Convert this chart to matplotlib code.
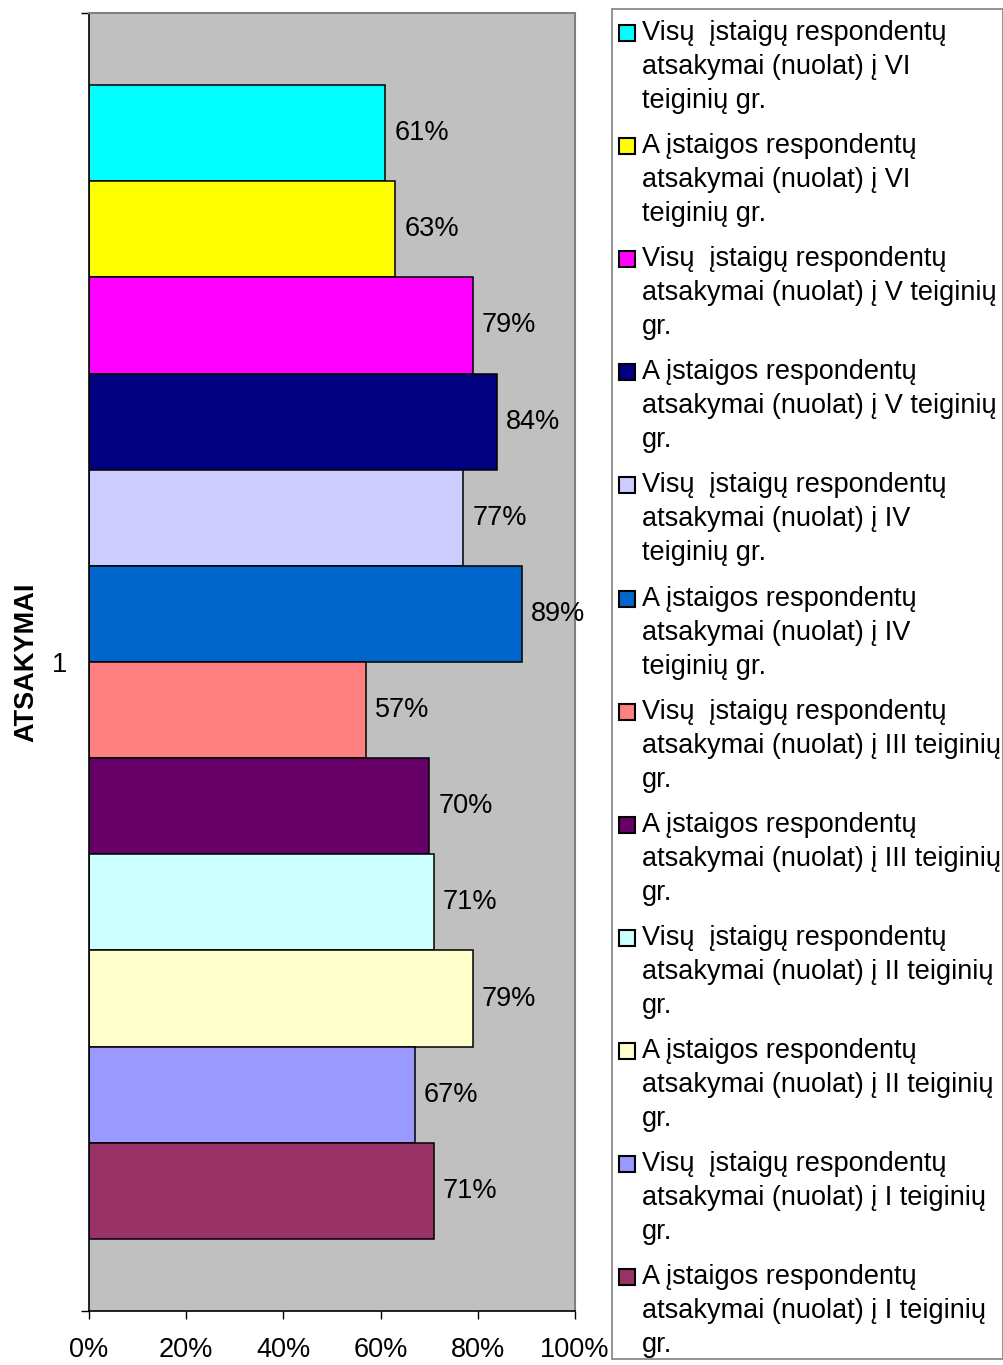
import matplotlib
matplotlib.use("Agg")
import matplotlib.pyplot as plt
from matplotlib.patches import Rectangle

plt.rcParams['font.family'] = ['Liberation Sans', 'DejaVu Sans']

# series, top to bottom as drawn
values = [61, 63, 79, 84, 77, 89, 57, 70, 71, 79, 67, 71]
colors = ['#00FFFF', '#FFFF00', '#FF00FF', '#000080', '#CCCCFF', '#0066CC',
          '#FF8080', '#660066', '#CCFFFF', '#FFFFCC', '#9999FF', '#993366']
labels = [
    ['Visų  įstaigų respondentų', 'atsakymai (nuolat) į VI', 'teiginių gr.'],
    ['A įstaigos respondentų', 'atsakymai (nuolat) į VI', 'teiginių gr.'],
    ['Visų  įstaigų respondentų', 'atsakymai (nuolat) į V teiginių', 'gr.'],
    ['A įstaigos respondentų', 'atsakymai (nuolat) į V teiginių', 'gr.'],
    ['Visų  įstaigų respondentų', 'atsakymai (nuolat) į IV', 'teiginių gr.'],
    ['A įstaigos respondentų', 'atsakymai (nuolat) į IV', 'teiginių gr.'],
    ['Visų  įstaigų respondentų', 'atsakymai (nuolat) į III teiginių', 'gr.'],
    ['A įstaigos respondentų', 'atsakymai (nuolat) į III teiginių', 'gr.'],
    ['Visų  įstaigų respondentų', 'atsakymai (nuolat) į II teiginių', 'gr.'],
    ['A įstaigos respondentų', 'atsakymai (nuolat) į II teiginių', 'gr.'],
    ['Visų  įstaigų respondentų', 'atsakymai (nuolat) į I teiginių', 'gr.'],
    ['A įstaigos respondentų', 'atsakymai (nuolat) į I teiginių', 'gr.'],
]
category = '1'
xticks = [0, 20, 40, 60, 80, 100]

W, H = 1004, 1365
FS = 19.5
fig = plt.figure(figsize=(W / 100, H / 100), dpi=100)


def fx(px):
    return px / W


def fy(py):
    return 1 - py / H


ax = fig.add_axes([fx(89), fy(1311), fx(575) - fx(89), fy(13) - fy(1311)])
ax.set_facecolor('#C0C0C0')

n = len(values)
group = 1154 / 1298
h = group / n
for i, (v, c) in enumerate(zip(values, colors)):
    y = group / 2 - h * (i + 0.5)
    ax.barh(y, v, height=h, color=c, edgecolor='black', linewidth=1.1)
    ax.annotate(f'{v}%', (v, y), xytext=(6.5, 0), textcoords='offset points',
                va='center', ha='left', fontsize=FS)

ax.set_xlim(0, 100)
ax.set_ylim(-0.5, 0.5)
ax.set_xticks(xticks)
ax.set_xticklabels([f'{t}%' for t in xticks], fontsize=FS)
ax.tick_params(axis='x', direction='out', length=6, width=1, pad=13)

ax.set_yticks([-0.5, 0.5])
ax.set_yticklabels([])
ax.tick_params(axis='y', direction='out', length=6, width=1)
ax.set_yticks([0], minor=True)
ax.set_yticklabels([category], minor=True, fontsize=FS)
ax.tick_params(axis='y', which='minor', length=0, pad=16)

fig.text(fx(26), fy(662), 'ATSAKYMAI', fontsize=FS, fontweight='bold',
         rotation=90, ha='center', va='center')

for s in ['left', 'bottom']:
    ax.spines[s].set_color('black')
    ax.spines[s].set_linewidth(1.2)
for s in ['top', 'right']:
    ax.spines[s].set_color('#808080')
    ax.spines[s].set_linewidth(1.5)

# legend box drawn by hand so markers sit at the first text line
fig.add_artist(Rectangle((fx(612), fy(1359)), fx(1003) - fx(612), fy(9) - fy(1359),
                         transform=fig.transFigure, facecolor='white',
                         edgecolor='#808080', linewidth=1.2))
for i, (c, lines) in enumerate(zip(colors, labels)):
    yc = 33 + 113.1 * i
    fig.add_artist(Rectangle((fx(619), fy(yc + 8)), fx(16), 16 / H,
                             transform=fig.transFigure, facecolor=c,
                             edgecolor='black', linewidth=1.5))
    for k, line in enumerate(lines):
        fig.text(fx(642), fy(yc + 34 * k), line, fontsize=FS,
                 ha='left', va='center')

fig.savefig('out.png', dpi=100)
